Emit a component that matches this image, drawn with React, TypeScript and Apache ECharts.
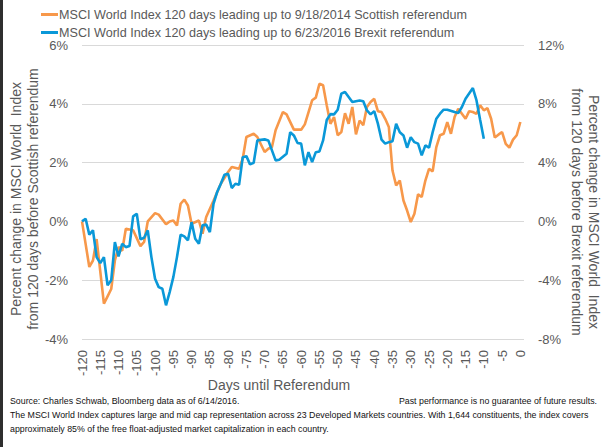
import React, { useEffect, useRef } from "react";
import * as echarts from "echarts";

const legendNames = [
  "MSCI World Index 120 days leading up to 9/18/2014 Scottish referendum",
  "MSCI World Index 120 days leading up to 6/23/2016 Brexit referendum",
];

const scotDays = [-120,-118,-117,-116,-114,-113,-112,-111,-110,-109,-108,-106,-104,-103,-102,-100,-99,-97,-96,-95,-94,-93,-92,-91,-90,-88,-87,-86,-84,-82,-80,-79,-77,-76,-75,-73,-72,-70,-69,-68,-67,-65,-64,-62,-60,-59,-57,-56,-55,-54,-53,-52,-51,-50,-49,-48,-47,-46,-45,-44,-43,-42,-41,-40,-39,-38,-37,-36,-35,-34,-33,-32,-31,-30,-29,-28,-27,-26,-25,-24,-23,-22,-21,-20,-19,-18,-17,-15,-14,-13,-12,-11,-10,-9,-8,-7,-6,-5,-4,-3,-2,-1,0];
const scotPct = [0.0,-1.55,-1.33,-0.6,-2.8,-2.55,-2.3,-1.33,-0.87,-1.0,-0.25,-0.3,-0.84,-0.7,0.0,0.28,0.23,-0.1,0.0,0.03,-0.14,0.6,0.74,0.54,-0.08,0.03,-0.42,0.15,0.7,1.28,1.68,1.85,1.79,2.13,2.87,2.98,2.87,2.36,2.47,2.53,3.1,3.72,3.64,3.12,3.12,3.3,4.12,4.21,4.68,4.63,3.95,3.32,3.55,2.93,3.04,3.68,3.32,3.89,2.96,3.43,3.27,3.89,4.06,4.17,3.75,3.72,3.49,3.21,1.73,1.22,1.39,0.71,0.37,-0.02,0.26,0.92,0.83,1.39,1.79,1.7,2.53,2.93,2.98,3.38,2.98,3.55,3.83,3.49,3.75,3.72,3.66,3.95,3.78,3.85,3.49,2.85,2.95,3.04,2.64,2.51,2.78,2.93,3.38];

const brexitDays = [-120,-119,-118,-117,-116,-115,-114,-113,-112,-111,-110,-109,-108,-107,-106,-105,-104,-103,-102,-101,-100,-99,-98,-97,-96,-95,-94,-93,-92,-91,-90,-89,-88,-87,-86,-85,-84,-83,-82,-81,-80,-79,-78,-77,-76,-75,-74,-73,-72,-70,-69,-67,-66,-64,-63,-62,-61,-60,-59,-58,-57,-56,-55,-54,-53,-52,-51,-50,-49,-48,-47,-46,-44,-43,-42,-41,-40,-39,-38,-37,-36,-35,-34,-33,-32,-31,-30,-29,-28,-27,-26,-25,-24,-23,-22,-21,-20,-18,-17,-16,-15,-13,-12,-11,-10];
const brexitPct = [0.0,0.18,-0.9,-0.6,-2.43,-2.84,-2.43,-4.35,-4.01,-1.41,-2.38,-1.52,-1.75,-1.68,0.34,0.52,-1.22,-1.11,-0.61,-2.43,-3.9,-4.47,-4.58,-5.71,-4.81,-3.79,-2.43,-0.9,-1.02,-1.29,-0.05,-1.18,-1.52,-0.27,-0.22,-0.73,1.2,2.0,2.56,3.17,3.24,2.27,2.56,2.49,4.37,4.44,3.88,3.99,5.51,5.58,5.51,4.15,4.2,4.6,6.07,5.85,5.33,5.29,3.81,4.71,4.03,4.71,4.76,5.51,6.9,7.3,7.28,7.6,8.69,8.8,8.46,8.12,8.23,8.18,7.55,7.28,7.5,6.65,5.56,5.29,5.39,5.46,6.65,6.07,5.85,5.01,5.73,5.39,5.29,4.49,5.17,5.01,6.07,6.99,7.33,7.6,7.6,7.44,7.37,7.78,8.35,9.07,8.23,6.9,5.63];

const leftAxisTitle = "Percent change in MSCI World  Index\nfrom 120 days before Scottish referendum";
const rightAxisTitle = "Percent change in MSCI World  Index\nfrom 120 days before Brexit referendum";
const xAxisTitle = "Days until Referendum";
const footerSource = "Source: Charles Schwab, Bloomberg data as of 6/14/2016.";
const footerPast = "Past performance is no guarantee of future results.";
const footerLine2 = "The MSCI World Index captures large and mid cap representation across 23 Developed Markets countries. With 1,644 constituents, the index covers";
const footerLine3 = "approximately 85% of the free float-adjusted market capitalization in each country.";

const ORANGE = "#F7984A";
const BLUE = "#0A98D8";
const GRAY = "#595959";
const FONT = "'Liberation Sans', Arial, sans-serif";

export default function App() {
  const ref = useRef<HTMLDivElement>(null);
  useEffect(() => {
    if (!ref.current) return;
    const chart = echarts.init(ref.current, undefined, { renderer: "svg" });
    const scotData = scotDays.map((d, i) => [d, scotPct[i]]);
    const brexitData = brexitDays.map((d, i) => [d, brexitPct[i]]);
    chart.setOption({
      animation: false,
      backgroundColor: "#ffffff",
      textStyle: { fontFamily: FONT },
      legend: {
        orient: "vertical",
        left: 36,
        top: 3,
        itemGap: 5,
        itemWidth: 17,
        itemHeight: 3,
        icon: "rect",
        textStyle: { color: GRAY, fontSize: 12.6, fontFamily: FONT, padding: [0, 0, 0, -4] },
        data: legendNames,
      },
      grid: { left: 82, right: 84, top: 45, bottom: 108, containLabel: false },
      xAxis: {
        type: "value",
        min: -120,
        max: 1,
        interval: 5,
        axisLine: { show: false },
        axisTick: { show: false },
        splitLine: { show: false },
        axisLabel: {
          rotate: 90,
          margin: 11,
          color: GRAY,
          fontSize: 13,
          fontFamily: FONT,
          showMaxLabel: false,
          formatter: (v: number) => (v <= 0 && v % 5 === 0 ? String(v) : ""),
        },
      },
      yAxis: [
        {
          type: "value",
          min: -4,
          max: 6,
          interval: 2,
          position: "left",
          axisLine: { show: false },
          axisTick: { show: false },
          splitLine: { lineStyle: { color: "#D9D9D9", width: 1 } },
          axisLabel: { formatter: "{value}%", color: GRAY, fontSize: 13, margin: 14, fontFamily: FONT },
        },
        {
          type: "value",
          min: -8,
          max: 12,
          interval: 4,
          position: "right",
          axisLine: { show: false },
          axisTick: { show: false },
          splitLine: { show: false },
          axisLabel: { formatter: "{value}%", color: GRAY, fontSize: 13, margin: 14, fontFamily: FONT },
        },
      ],
      series: [
        {
          name: legendNames[0],
          type: "line",
          yAxisIndex: 0,
          data: scotData,
          showSymbol: false,
          symbol: "none",
          itemStyle: { color: ORANGE },
          lineStyle: { color: ORANGE, width: 2.6 },
        },
        {
          name: legendNames[1],
          type: "line",
          yAxisIndex: 1,
          data: brexitData,
          showSymbol: false,
          symbol: "none",
          itemStyle: { color: BLUE },
          lineStyle: { color: BLUE, width: 2.6 },
        },
      ],
      graphic: [
        { type: "rect", left: 0, top: 0, shape: { width: 3, height: 447 }, style: { fill: "#2E2E2E" } },
        {
          type: "text",
          x: 24,
          y: 199,
          rotation: Math.PI / 2,
          style: { text: leftAxisTitle, align: "center", verticalAlign: "middle", fill: GRAY, font: `14px ${FONT}`, lineHeight: 17 },
        },
        {
          type: "text",
          x: 585,
          y: 212,
          rotation: -Math.PI / 2,
          style: { text: rightAxisTitle, align: "center", verticalAlign: "middle", fill: GRAY, font: `14px ${FONT}`, lineHeight: 17 },
        },
        {
          type: "text",
          x: 279,
          y: 385,
          style: { text: xAxisTitle, align: "center", verticalAlign: "middle", fill: GRAY, font: `14px ${FONT}` },
        },
        { type: "text", x: 10, y: 401, style: { text: footerSource, verticalAlign: "middle", fill: "#111", font: `8.8px ${FONT}` } },
        { type: "text", x: 597, y: 401, style: { text: footerPast, align: "right", verticalAlign: "middle", fill: "#111", font: `8.8px ${FONT}` } },
        { type: "text", x: 10, y: 415, style: { text: footerLine2, verticalAlign: "middle", fill: "#111", font: `8.8px ${FONT}` } },
        { type: "text", x: 10, y: 429, style: { text: footerLine3, verticalAlign: "middle", fill: "#111", font: `8.8px ${FONT}` } },
      ],
    });
    return () => chart.dispose();
  }, []);
  return <div ref={ref} style={{ position: "fixed", left: 0, top: 0, width: 608, height: 447 }} />;
}
